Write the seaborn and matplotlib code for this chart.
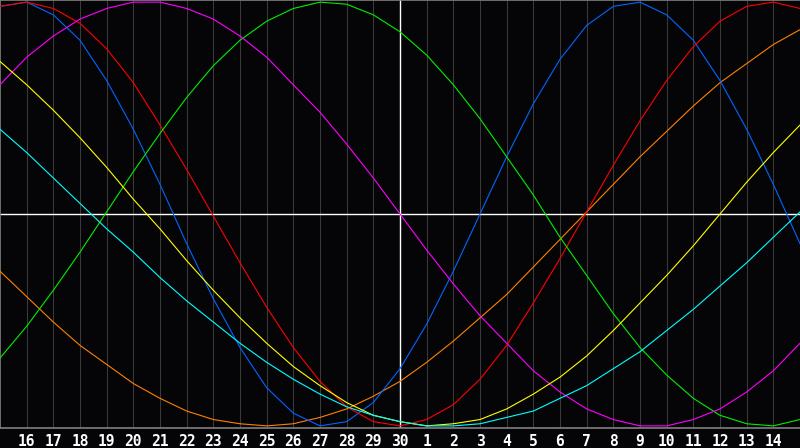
import matplotlib
matplotlib.use("Agg")
import matplotlib.pyplot as plt
import seaborn as sns
import numpy as np
import pandas as pd

# ----------------------------------------------------------------------
# Data: one value per day grid line (31 positions),
# in % of full swing, -100 .. 100
# ----------------------------------------------------------------------
day_labels = ["16", "17", "18", "19", "20", "21", "22", "23", "24", "25",
              "26", "27", "28", "29", "30", "1", "2", "3", "4", "5",
              "6", "7", "8", "9", "10", "11", "12", "13", "14"]

blue = [98, 100, 94, 82, 63, 40, 14, -14, -40, -63, -82, -94, -100, -98,
        -89, -73, -52, -27, 0, 27, 52, 73, 89, 98, 100, 94, 82, 63, 40, 14, -14]
red = [98, 100, 97, 90, 78, 62, 42, 21, -1, -23, -44, -63, -79, -91, -98,
       -100, -97, -90, -78, -62, -42, -21, 1, 23, 44, 63, 79, 91, 98, 100, 97]
green = [-68, -53, -36, -18, 1, 20, 38, 55, 70, 82, 91, 97, 100, 99, 94, 86,
         75, 61, 45, 27, 9, -11, -29, -47, -63, -76, -87, -95, -99, -100, -97]
magenta = [61, 74, 84, 92, 97, 100, 100, 97, 92, 84, 74, 61, 48, 33, 17, 0,
           -17, -33, -48, -61, -74, -84, -92, -97, -100, -100, -97, -92, -84, -74, -61]
yellow = [72, 61, 49, 36, 22, 7, -7, -22, -36, -49, -61, -72, -81, -89, -95,
          -98, -100, -99, -97, -92, -85, -77, -67, -55, -42, -29, -15, 0, 15, 29, 42]
cyan = [40, 29, 17, 5, -7, -18, -30, -41, -51, -61, -70, -78, -85, -91, -95,
        -98, -100, -100, -99, -96, -93, -87, -81, -73, -65, -55, -45, -34, -23, -11, 1]
orange = [-27, -39, -51, -62, -71, -80, -87, -93, -97, -99, -100, -99, -96, -92,
          -86, -79, -70, -60, -49, -38, -25, -12, 1, 14, 27, 39, 51, 62, 71, 80, 87]

series = {
    "orange": orange,
    "blue": blue,
    "red": red,
    "green": green,
    "magenta": magenta,
    "yellow": yellow,
    "cyan": cyan,
}
colors = {
    "orange": "#ff8000",
    "blue": "#0066ff",
    "red": "#ff0000",
    "green": "#00ee00",
    "magenta": "#ff00ff",
    "yellow": "#ffff00",
    "cyan": "#00ffff",
}

positions = np.arange(31)
df = pd.concat(
    [pd.DataFrame({"pos": positions, "value": vals, "curve": name})
     for name, vals in series.items()],
    ignore_index=True,
)

# ----------------------------------------------------------------------
# Plot
# ----------------------------------------------------------------------
sns.set_theme(style="dark")
bg = "#050508"
fig = plt.figure(figsize=(8, 4.48), dpi=100, facecolor=bg)
ax = fig.add_axes([0, 20 / 448, 1, 428 / 448])
ax.set_facecolor(bg)

# day grid lines
for k in range(1, 30):
    ax.axvline(k, color="#3a3a3a", lw=0.75, zorder=1)

for name in series:
    sns.lineplot(data=df[df["curve"] == name], x="pos", y="value",
                 color=colors[name], lw=0.8, ax=ax, legend=False, zorder=3)

# today marker and zero line
ax.axhline(0, color="white", lw=1.0, zorder=2)
ax.axvline(15, color="white", lw=1.0, zorder=2)

ax.set_xlim(0, 30)
ax.set_ylim(-101, 101)
ax.set_xticks(np.arange(1, 30))
ax.set_xticklabels(day_labels)
ax.set_yticks([])
ax.set_xlabel("")
ax.set_ylabel("")
ax.grid(False)
ax.tick_params(axis="x", length=0, pad=4, colors="white")
for lbl in ax.get_xticklabels():
    lbl.set_fontfamily("DejaVu Sans Mono")
    lbl.set_fontweight("bold")
    lbl.set_fontsize(10.5)
for side in ["left", "bottom", "top"]:
    ax.spines[side].set_color("#808080")
    ax.spines[side].set_linewidth(1.2)
ax.spines["right"].set_visible(False)

fig.savefig("out.png", dpi=100, facecolor=bg)
